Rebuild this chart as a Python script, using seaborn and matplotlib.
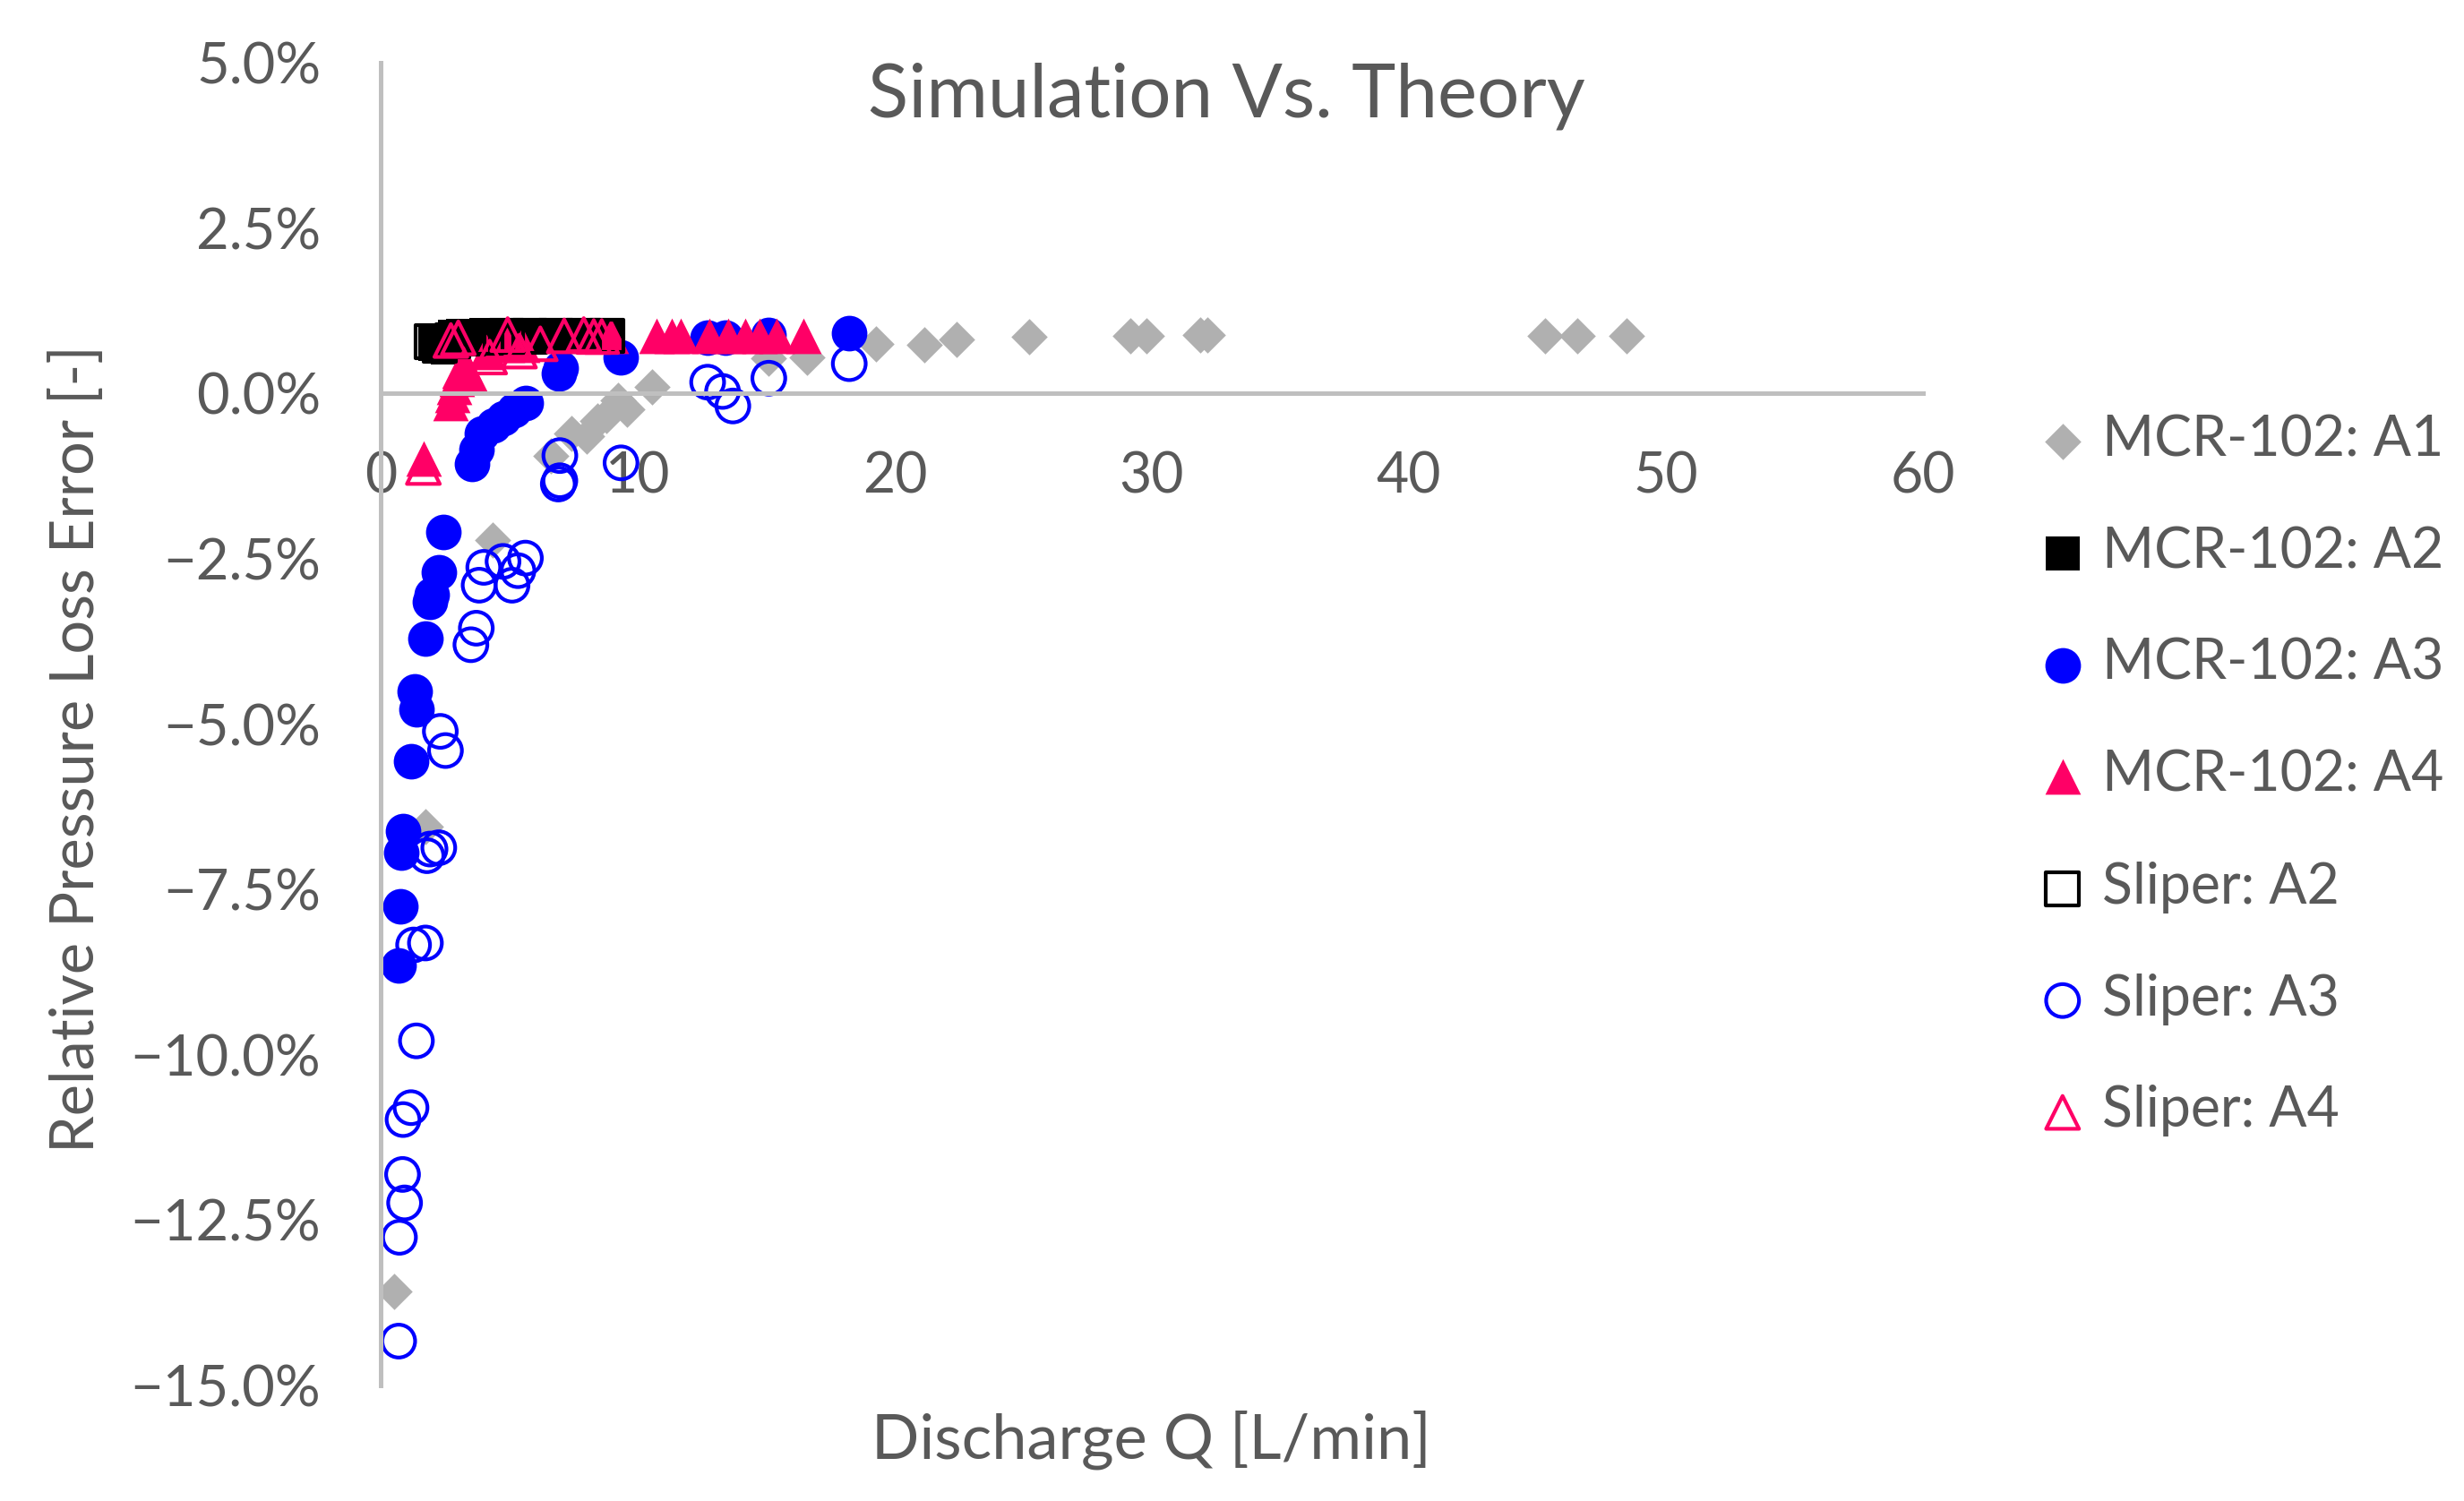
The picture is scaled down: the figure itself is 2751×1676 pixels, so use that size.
import matplotlib
matplotlib.use("Agg")
import matplotlib.pyplot as plt
from matplotlib.ticker import FuncFormatter, MultipleLocator
import seaborn as sns

# MCR-102: A1 (grey diamonds) - discharge [L/min], error [%]
a1_q = [0.52, 1.74, 4.36, 6.62, 7.43, 8.01, 8.42, 8.77, 9.23, 9.58, 10.57,
        15.10, 16.60, 19.28, 21.14, 22.42, 25.24, 29.15, 29.79, 31.88, 32.17,
        45.31, 46.56, 48.48]
a1_e = [-13.58, -6.55, -2.22, -0.94, -0.60, -0.65, -0.42, -0.33, -0.10, -0.24, 0.10,
        0.53, 0.55, 0.75, 0.74, 0.81, 0.86, 0.87, 0.87, 0.88, 0.88,
        0.87, 0.87, 0.87]

# MCR-102: A2 (black squares)
a2_q = [2.13, 2.30, 2.60, 2.90, 3.20, 3.50, 3.80, 4.10, 4.40, 4.70, 5.00, 5.30,
        5.60, 5.90, 6.20, 6.50, 6.80, 7.10, 7.40, 7.70, 8.00, 8.30, 8.50, 8.76]
a2_e = [0.75, 0.80, 0.69, 0.86, 0.87, 0.86, 0.87, 0.88, 0.87, 0.86, 0.87, 0.88,
        0.87, 0.87, 0.86, 0.87, 0.88, 0.87, 0.87, 0.86, 0.87, 0.87, 0.86, 0.86]

# MCR-102: A3 (blue filled circles)
a3_q = [0.70, 0.76, 0.81, 0.87, 1.18, 1.31, 1.39, 1.74, 1.92, 1.98, 2.26, 2.44,
        3.54, 3.72, 3.95, 4.40, 4.76, 5.20, 5.63, 6.95, 7.00, 9.35,
        12.72, 13.41, 15.10, 18.23]
a3_e = [-8.65, -7.76, -6.94, -6.62, -5.56, -4.50, -4.77, -3.71, -3.15, -3.04, -2.70, -2.09,
        -1.07, -0.85, -0.60, -0.48, -0.37, -0.25, -0.15, 0.30, 0.38, 0.55,
        0.85, 0.85, 0.88, 0.91]

# MCR-102: A4 (pink filled triangles)
a4_q = [1.66, 2.70, 2.78, 2.85, 2.95, 3.05, 3.25, 3.50, 4.10, 4.90, 5.50,
        8.94, 10.74, 11.32, 11.67, 12.78, 13.52, 14.17, 14.75, 15.39, 16.43]
a4_e = [-0.98, -0.14, -0.02, 0.10, 0.22, 0.34, 0.45, 0.28, 0.62, 0.74, 0.74,
        0.87, 0.87, 0.87, 0.87, 0.87, 0.87, 0.87, 0.87, 0.87, 0.87]

# Sliper: A2 (open black squares)
s2_q = [2.00, 2.30, 2.80, 3.40, 4.10, 4.90, 5.80, 6.80, 7.90, 8.80]
s2_e = [0.78, 0.72, 0.80, 0.84, 0.85, 0.86, 0.86, 0.87, 0.87, 0.87]

# Sliper: A3 (open blue circles)
s3_q = [0.70, 0.73, 0.93, 0.85, 0.87, 1.18, 1.39, 1.28, 1.74, 1.80, 1.92, 2.26,
        2.32, 2.52, 3.51, 3.72, 3.83, 4.01, 4.76, 5.11, 5.34, 5.63,
        6.97, 6.97, 6.91, 9.35, 12.72, 13.30, 13.70, 15.10, 18.23]
s3_e = [-14.33, -12.76, -12.24, -11.81, -10.98, -10.80, -9.79, -8.34, -8.31, -6.99, -6.89, -6.87,
        -5.11, -5.40, -3.80, -3.55, -2.90, -2.63, -2.54, -2.90, -2.68, -2.49,
        -0.94, -1.32, -1.37, -1.05, 0.17, 0.03, -0.19, 0.23, 0.45]

# Sliper: A4 (open pink triangles)
s4_q = [1.66, 2.73, 3.02, 4.24, 4.94, 5.40, 6.21, 7.14, 7.90, 8.29, 8.60]
s4_e = [-1.12, 0.80, 0.84, 0.55, 0.89, 0.64, 0.75, 0.87, 0.89, 0.86, 0.86]

GREY = "#B0B0B0"
PINK = "#FF0066"
BLUE = "#0000FF"
TEXT = "#595959"
AXIS = "#BFBFBF"

sns.set_style("white")
plt.rcParams["font.family"] = ["Lato", "DejaVu Sans"]

fig = plt.figure(figsize=(13.755, 8.38), dpi=200)
ax = fig.add_axes([0.1545, 0.0770, 0.6259, 0.8812])

S = 205  # marker area (pt^2)
sns.scatterplot(x=a1_q, y=a1_e, marker="D", s=S * 0.52, color=GREY, edgecolor=GREY,
                linewidth=0, label="MCR-102: A1", ax=ax)
sns.scatterplot(x=a2_q, y=a2_e, marker="s", s=S * 0.95, color="black", edgecolor="black",
                linewidth=0, label="MCR-102: A2", ax=ax)
sns.scatterplot(x=a3_q, y=a3_e, marker="o", s=S, color=BLUE, edgecolor=BLUE,
                linewidth=0, label="MCR-102: A3", ax=ax)
sns.scatterplot(x=a4_q, y=a4_e, marker="^", s=S, color=PINK, edgecolor=PINK,
                linewidth=0, label="MCR-102: A4", ax=ax)
sns.scatterplot(x=s2_q, y=s2_e, marker="s", s=S * 0.85, color="black", facecolor="none",
                edgecolor="black", linewidth=1.5, label="Sliper: A2", ax=ax)
sns.scatterplot(x=s3_q, y=s3_e, marker="o", s=S * 0.85, color=BLUE, facecolor="none",
                edgecolor=BLUE, linewidth=1.5, label="Sliper: A3", ax=ax)
sns.scatterplot(x=s4_q, y=s4_e, marker="^", s=S * 0.85, color=PINK, facecolor="none",
                edgecolor=PINK, linewidth=1.5, label="Sliper: A4", ax=ax)

ax.set_xlim(0, 60)
ax.set_ylim(-15, 5)
ax.xaxis.set_major_locator(MultipleLocator(10))
ax.yaxis.set_major_locator(MultipleLocator(2.5))
ax.yaxis.set_major_formatter(FuncFormatter(lambda v, p: f"{v:.1f}%".replace("-", "\u2212")))

for side in ["top", "right"]:
    ax.spines[side].set_visible(False)
ax.spines["bottom"].set_position(("data", 0))
for side in ["left", "bottom"]:
    ax.spines[side].set_color(AXIS)
    ax.spines[side].set_linewidth(1.8)

ax.tick_params(axis="x", direction="in", length=7, width=1.8, color=AXIS,
               pad=23, labelsize=22.5, labelcolor=TEXT)
ax.tick_params(axis="y", length=0, pad=24, labelsize=22.8, labelcolor=TEXT)
ax.set_xlabel("")
ax.set_ylabel("")

fig.text(0.4976, 0.9224, "Simulation Vs. Theory", ha="center", va="baseline",
         fontsize=30, color=TEXT)
fig.text(0.4671, 0.0406, "Discharge Q [L/min]", ha="center", va="center",
         fontsize=25.3, color=TEXT)
fig.text(0.0313, 0.5010, "Relative Pressure Loss Error [-]", ha="center", va="center",
         rotation=90, fontsize=24, color=TEXT)

leg = ax.legend(loc="upper left", bbox_to_anchor=(0.828, 0.7242),
                bbox_transform=fig.transFigure, frameon=False, borderpad=0,
                borderaxespad=0, handlelength=0.8, handletextpad=0.3,
                labelspacing=1.07, fontsize=22.5)
for t in leg.get_texts():
    t.set_color(TEXT)

fig.savefig("out.png", dpi=200)
